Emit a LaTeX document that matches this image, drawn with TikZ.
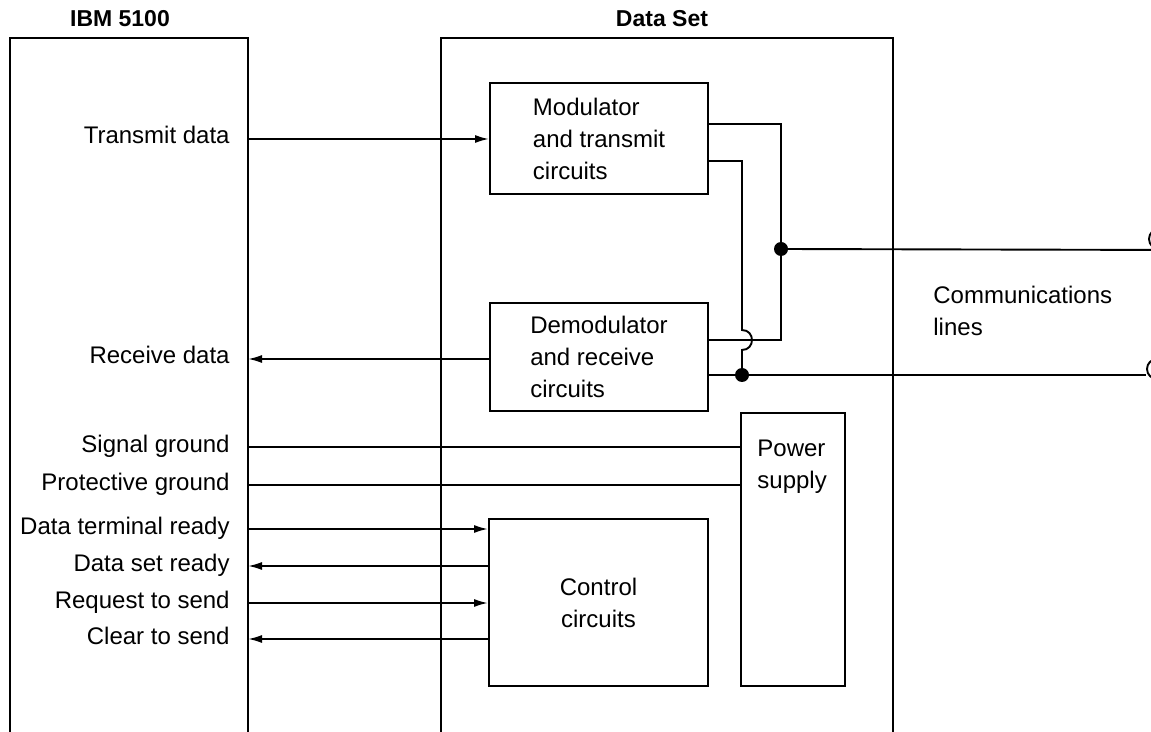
\documentclass[tikz,border=0pt]{standalone}
\usepackage{fontspec}
\setmainfont{Liberation Sans}
\usetikzlibrary{arrows.meta}
\tikzset{
  every node/.style={font=\fontsize{12pt}{16pt}\selectfont},
  wire/.style={line width=0.95pt},
  box/.style={draw, rectangle, line width=0.95pt, align=left, inner sep=0pt},
  sig/.style={anchor=base east, inner sep=0pt},
  lbl/.style={anchor=north west, inner sep=0pt, align=left},
  title/.style={anchor=base, inner sep=0pt, font=\fontsize{11.5pt}{14pt}\selectfont\bfseries},
  arr/.style={wire, -{Latex[length=7pt,width=4pt]}},
  junction/.style={circle, fill, inner sep=0pt, minimum size=7pt},
  term/.style={circle, draw, line width=0.95pt, inner sep=0pt, minimum size=10pt}
}
\begin{document}
\begin{tikzpicture}[x=0.5pt, y=-0.5pt]
\useasboundingbox (0,0) rectangle (1151,732);
\fill[white] (0,0) rectangle (1151,732);
\begin{scope}
\clip (0,0) rectangle (1151,732);

% titles
\node[title] (ibmtitle) at (120,27) {IBM 5100};
\node[title] (dstitle) at (662,27) {Data Set};

% open-bottom enclosures
\coordinate (ibmBL) at (10,745);
\coordinate (ibmTL) at (10,38);
\coordinate (ibmTR) at (248,38);
\coordinate (ibmBR) at (248,745);
\draw[wire] (ibmBL) -- (ibmTL) -- (ibmTR) -- (ibmBR);
\coordinate (dsBL) at (441,745);
\coordinate (dsTL) at (441,38);
\coordinate (dsTR) at (893,38);
\coordinate (dsBR) at (893,745);
\draw[wire] (dsBL) -- (dsTL) -- (dsTR) -- (dsBR);

% boxes
\node[box, minimum width=109pt, minimum height=55.5pt] (mod) at (599,138.5) {Modulator\\and transmit\\circuits};
\node[box, minimum width=109pt, minimum height=54pt] (demod) at (599,357) {Demodulator\\and receive\\circuits};
\node[box, align=center, minimum width=109.5pt, minimum height=83.5pt] (ctrl) at (598.5,602.5) {Control\\circuits};
\node[box, minimum width=52pt, minimum height=136.5pt] (ps) at (793,549.5) {};
\node[lbl] (pslabel) at (757,440) {Power\\supply};
\node[lbl] (commlabel) at (933,286) {Communications\\lines};

% signal labels
\node[sig] (tdtext) at (230,144) {Transmit data};
\node[sig] (rdtext) at (230,364) {Receive data};
\node[sig] (sgtext) at (230,452) {Signal ground};
\node[sig] (pgtext) at (230,490) {Protective ground};
\node[sig] (dtrtext) at (230,534) {Data terminal ready};
\node[sig] (dsrtext) at (230,571) {Data set ready};
\node[sig] (rtstext) at (230,608) {Request to send};
\node[sig] (ctstext) at (230,644) {Clear to send};

% interface points on the IBM 5100 edge
\coordinate (td) at (248,139);
\coordinate (rd) at (248,359);
\coordinate (sg) at (248,447);
\coordinate (pg) at (248,485);
\coordinate (dtr) at (248,529);
\coordinate (dsr) at (248,566);
\coordinate (rts) at (248,603);
\coordinate (cts) at (248,639);

\draw[arr] (td) -- (td -| mod.west);
\draw[arr] (rd -| demod.west) -- (rd);
\draw[wire] (sg) -- (sg -| ps.west);
\draw[wire] (pg) -- (pg -| ps.west);
\draw[arr] (dtr) -- (dtr -| ctrl.west);
\draw[arr] (dsr -| ctrl.west) -- (dsr);
\draw[arr] (rts) -- (rts -| ctrl.west);
\draw[arr] (cts -| ctrl.west) -- (cts);

% modem wiring
\node[junction] (ja) at (781,249) {};
\node[junction] (jb) at (742,375) {};
\node[term] (term1) at (1159,239) {};
\node[term] (term2) at (1157,369) {};

\coordinate (c1) at (781,124);
\coordinate (c2) at (781,340);
\draw[wire] (c1 -| mod.east) -- (c1) -- (c2) -- (c2 -| demod.east);

\coordinate (c3) at (742,161);
\coordinate (h1) at (742,330);
\coordinate (h2) at (742,350);
\draw[wire] (c3 -| mod.east) -- (c3) -- (h1) .. controls +(13.3,0) and +(13.3,0) .. (h2) -- (jb.center);

\draw[wire] (ja.center) -- (term1.south);
\draw[wire] (jb -| demod.east) -- (jb.center) -- (jb -| term2.west);
\end{scope}
\end{tikzpicture}
\end{document}
